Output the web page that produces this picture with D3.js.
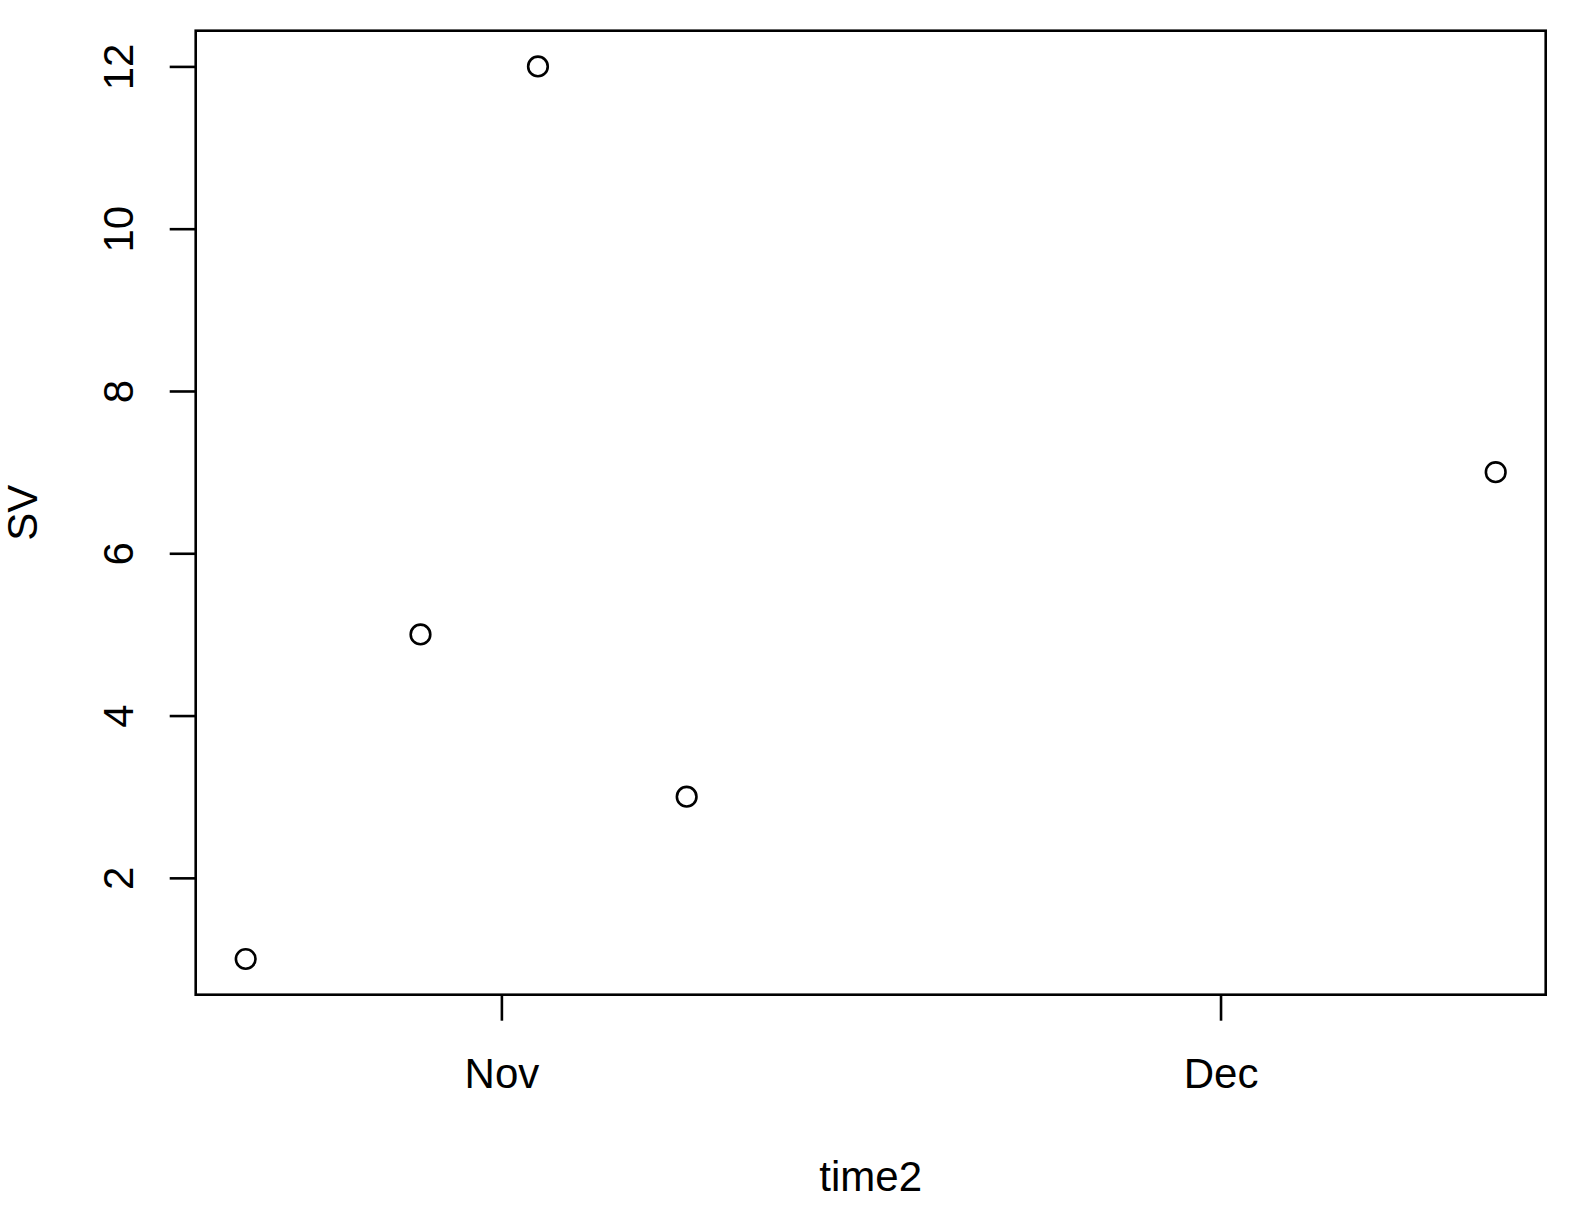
<!DOCTYPE html>
<html>
<head>
<meta charset="utf-8">
<script src="https://cdn.jsdelivr.net/npm/d3@7"></script>
<style>
  html, body { margin: 0; padding: 0; background: #fff; }
  svg text { font-family: "Liberation Sans", Arial, sans-serif; fill: #000; }
</style>
</head>
<body>
<div id="chart"></div>
<script>
// Data
const times = ['2017-10-21T08:00Z', '2017-10-28T15:00Z', '2017-11-02T12:36Z', '2017-11-08T17:30Z', '2017-12-12T11:30Z'];
const svValues = [1, 5, 12, 3, 7];
const yTicks = [2, 4, 6, 8, 10, 12];
const xTicks = ['2017-11-01T00:00Z', '2017-12-01T00:00Z'];
const xTickLabels = ['Nov', 'Dec'];

const width = 1574, height = 1214;
const box = { left: 195.7, right: 1545.7, top: 30.7, bottom: 994.7 };

const points = times.map((t, i) => ({ t: new Date(t), v: svValues[i] }));

// R style: extend data range by 4% on each side
const tExt = d3.extent(points, d => +d.t);
const tPad = (tExt[1] - tExt[0]) * 0.04;
const vExt = d3.extent(points, d => d.v);
const vPad = (vExt[1] - vExt[0]) * 0.04;

const x = d3.scaleUtc()
    .domain([new Date(tExt[0] - tPad), new Date(tExt[1] + tPad)])
    .range([box.left, box.right]);
const y = d3.scaleLinear()
    .domain([vExt[0] - vPad, vExt[1] + vPad])
    .range([box.bottom, box.top]);

const svg = d3.select('#chart').append('svg')
    .attr('width', width)
    .attr('height', height);

// Plot box
svg.append('rect')
    .attr('x', box.left).attr('y', box.top)
    .attr('width', box.right - box.left).attr('height', box.bottom - box.top)
    .attr('fill', 'none').attr('stroke', '#000').attr('stroke-width', 2.6);

// X axis
const xAxis = d3.axisBottom(x)
    .tickValues(xTicks.map(d => new Date(d)))
    .tickFormat((d, i) => xTickLabels[i])
    .tickSize(26)
    .tickPadding(36);
const gx = svg.append('g')
    .attr('transform', `translate(0,${box.bottom})`)
    .call(xAxis);
gx.select('.domain').remove();
gx.selectAll('.tick line').attr('stroke', '#000').attr('stroke-width', 2.6);
gx.selectAll('.tick text').attr('font-size', 42).attr('dy', null).attr('y', 93.6)
    .attr('font-family', '"Liberation Sans", Arial, sans-serif');

// Y axis
const yAxis = d3.axisLeft(y)
    .tickValues(yTicks)
    .tickSize(26);
const gy = svg.append('g')
    .attr('transform', `translate(${box.left},0)`)
    .call(yAxis);
gy.select('.domain').remove();
gy.selectAll('.tick line').attr('stroke', '#000').attr('stroke-width', 2.6);
gy.selectAll('.tick text')
    .attr('x', null).attr('dy', null)
    .attr('text-anchor', 'middle')
    .attr('font-size', 42)
    .attr('font-family', '"Liberation Sans", Arial, sans-serif')
    .attr('transform', 'translate(-62.7,0) rotate(-90)');

// Points
svg.append('g')
    .selectAll('circle')
    .data(points)
    .join('circle')
    .attr('cx', d => x(d.t))
    .attr('cy', d => y(d.v))
    .attr('r', 9.8)
    .attr('fill', 'none')
    .attr('stroke', '#000')
    .attr('stroke-width', 2.6);

// Axis titles
svg.append('text')
    .attr('x', (box.left + box.right) / 2)
    .attr('y', 1191)
    .attr('text-anchor', 'middle')
    .attr('font-size', 42)
    .text('time2');

svg.append('text')
    .attr('transform', `translate(37,${(box.top + box.bottom) / 2}) rotate(-90)`)
    .attr('text-anchor', 'middle')
    .attr('font-size', 42)
    .text('SV');
</script>
</body>
</html>
